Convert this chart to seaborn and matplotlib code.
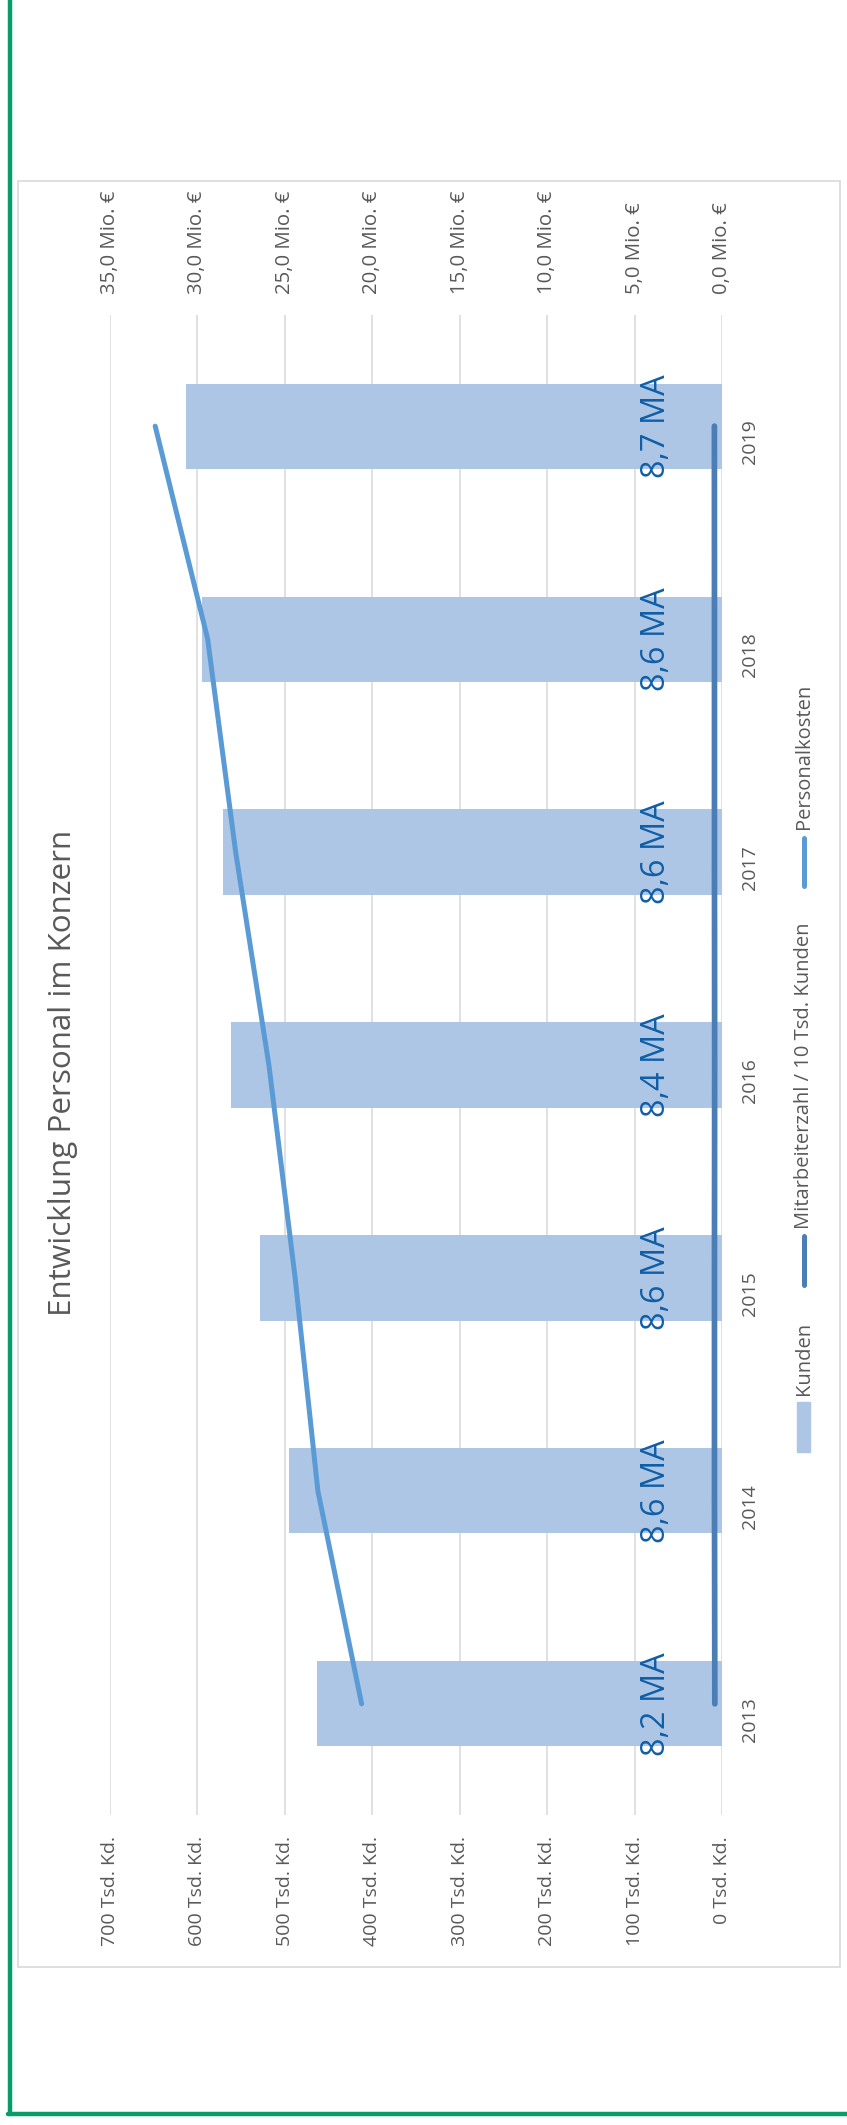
import matplotlib
matplotlib.use("Agg")
import matplotlib.pyplot as plt
import seaborn as sns
import numpy as np
from matplotlib.lines import Line2D
from matplotlib.patches import Rectangle

# ===== DATA =====
years = ["2013", "2014", "2015", "2016", "2017", "2018", "2019"]
kunden = [463000, 495000, 528000, 561000, 571000, 595000, 613000]
personalkosten = [20.6, 23.1, 24.4, 25.9, 27.8, 29.4, 32.4]   # Mio. EUR
ma_pro_10k = [8.2, 8.6, 8.6, 8.4, 8.6, 8.6, 8.7]

kunden_ticks = [0, 100000, 200000, 300000, 400000, 500000, 600000, 700000]
kunden_labels = [f"{t // 1000} Tsd. Kd." for t in kunden_ticks]
mio_ticks = [0, 5, 10, 15, 20, 25, 30, 35]
mio_labels = [f"{t:.1f}".replace(".", ",") + " Mio. €" for t in mio_ticks]
ma_labels = [f"{v:.1f}".replace(".", ",") + " MA" for v in ma_pro_10k]

title = "Entwicklung Personal im Konzern"
legend_names = ["Kunden", "Mitarbeiterzahl / 10 Tsd. Kunden", "Personalkosten"]

# ===== STYLE =====
W, H = 847, 2125
bar_col = "#AEC6E5"
pk_col = "#5B9BD5"
ma_col = "#4A7EB4"
lab_col = "#105EA6"
txt_col = "#595959"
grid_col = "#D9D9D9"
green = "#089C68"

sns.set_style("white")
plt.rcParams["font.family"] = ["Open Sans", "DejaVu Sans"]

fig = plt.figure(figsize=(W / 100, H / 100), dpi=100)


def fx(px):
    return px / W


def fy(py):
    return 1 - py / H


# axes: value axis horizontal (inverted), categories vertical
ax = fig.add_axes([fx(109.7), fy(1814.6), fx(722 - 109.7), (1814.6 - 315.4) / H])

order = years[::-1]
sns.barplot(x=kunden, y=years, order=order, orient="h", color=bar_col,
            saturation=1, width=0.4, ax=ax, linewidth=0)
ypos = [order.index(y) for y in years]

ax.plot([v * 1000 for v in ma_pro_10k], ypos, color=ma_col, lw=4.1,
        solid_capstyle="round", zorder=3)
for v, y, s in zip(ma_pro_10k, ypos, ma_labels):
    ax.annotate(s, xy=(v * 1000, y), xytext=(-58, 0), textcoords="offset pixels",
                rotation=90, ha="center", va="center", fontsize=23.4,
                color=lab_col, zorder=4)

ax.set_xlim(700000, 0)
ax.set_xticks(kunden_ticks)
ax.set_xticklabels(kunden_labels)
ax.set_xlabel("")
ax.set_ylabel("")
ax.grid(axis="x", color=grid_col, lw=1.1)
ax.set_axisbelow(True)
for sp in ax.spines.values():
    sp.set_visible(False)
ax.tick_params(axis="x", length=0, pad=15.4, labelsize=14, labelcolor=txt_col,
               labelrotation=90)
ax.yaxis.tick_right()
ax.tick_params(axis="y", length=0, pad=20.5, labelsize=14, labelcolor=txt_col,
               labelrotation=90)
for lbl in ax.get_xticklabels():
    lbl.set_va("top")
for lbl in ax.yaxis.get_majorticklabels():
    lbl.set_ha("center")

ax2 = ax.twiny()
ax2.plot(personalkosten, ypos, color=pk_col, lw=3.6, solid_capstyle="round", zorder=3)
ax2.set_xlim(35, 0)
ax2.set_xticks(mio_ticks)
ax2.set_xticklabels(mio_labels)
ax2.tick_params(axis="x", length=0, pad=15.4, labelsize=14.7, labelcolor=txt_col,
                labelrotation=90)
for lbl in ax2.get_xticklabels():
    lbl.set_va("bottom")
for sp in ax2.spines.values():
    sp.set_visible(False)

# title
fig.text(fx(63), fy(1072.5), title, rotation=90, ha="center", va="center",
         fontsize=22.6, color=txt_col)

# legend (drawn rotated like the rest of the chart)
fig.add_artist(Rectangle((fx(797), fy(1452)), fx(13), 50 / H, color=bar_col,
                         transform=fig.transFigure))
fig.text(fx(804), fy(1395), legend_names[0], rotation=90, ha="center", va="bottom",
         fontsize=14.5, color=txt_col)
fig.add_artist(Line2D([fx(804), fx(804)], [fy(1285), fy(1236)], color=ma_col, lw=3.6,
                      solid_capstyle="round", transform=fig.transFigure))
fig.text(fx(804), fy(1229), legend_names[1], rotation=90, ha="center", va="bottom",
         fontsize=14.5, color=txt_col)
fig.add_artist(Line2D([fx(803.5), fx(803.5)], [fy(886), fy(838)], color=pk_col, lw=3.6,
                      solid_capstyle="round", transform=fig.transFigure))
fig.text(fx(804), fy(829), legend_names[2], rotation=90, ha="center", va="bottom",
         fontsize=14.5, color=txt_col)

# chart border and green frame
fig.add_artist(Rectangle((fx(18), fy(1967)), fx(840 - 18), (1967 - 181) / H, fill=False,
                         edgecolor=grid_col, lw=1.2, transform=fig.transFigure))
fig.add_artist(Line2D([fx(9.7), fx(9.7)], [1, fy(2113.7)], color=green, lw=3.2,
                      transform=fig.transFigure))
fig.add_artist(Line2D([fx(7.5), 1], [fy(2113.7), fy(2113.7)], color=green, lw=3.2,
                      transform=fig.transFigure))

fig.savefig("out.png", dpi=100)
plt.close(fig)
